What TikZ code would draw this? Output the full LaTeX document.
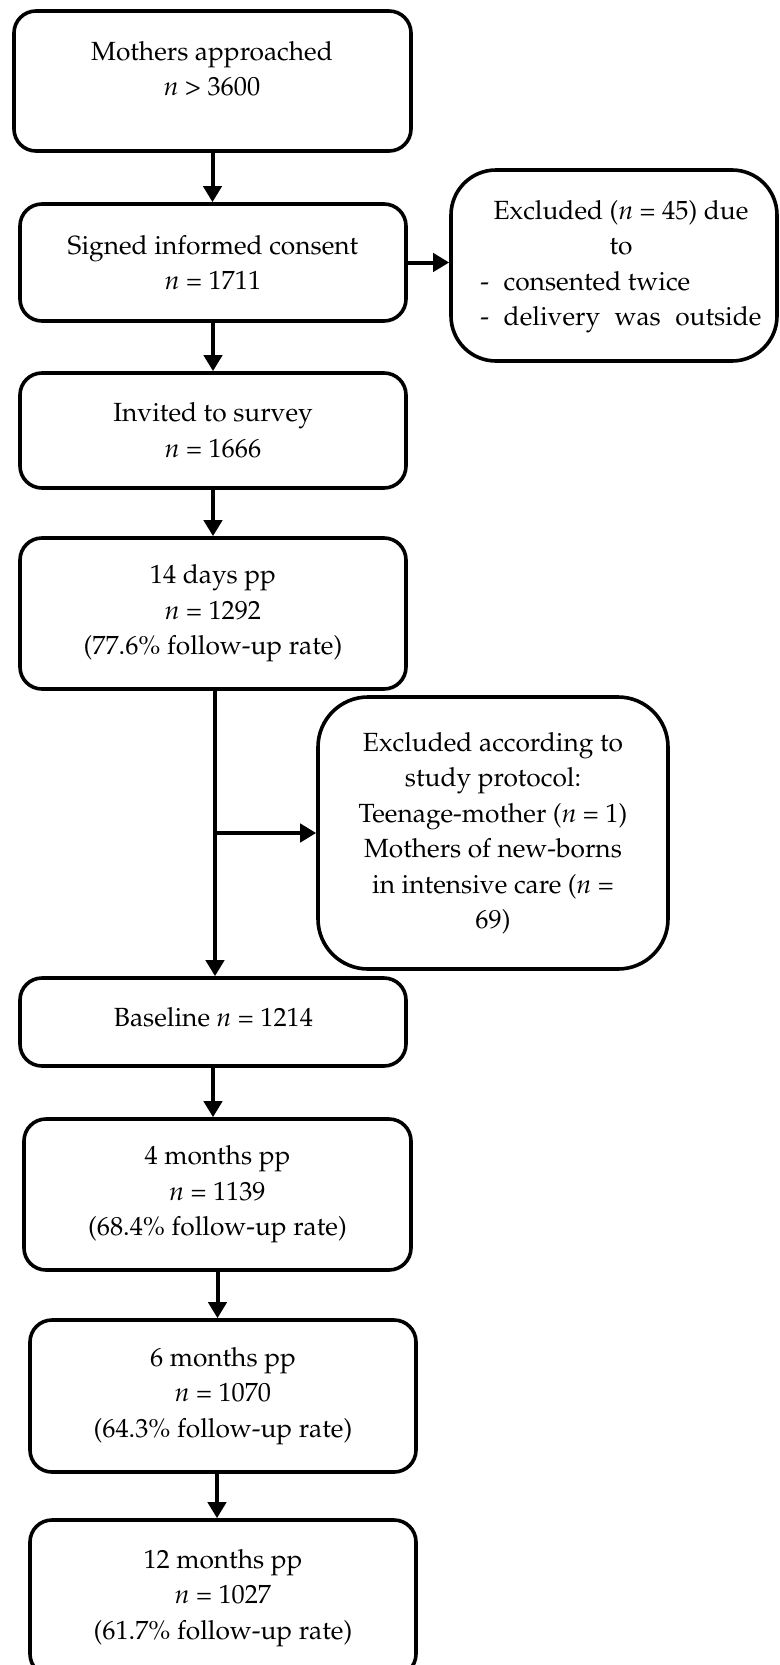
\documentclass[tikz,border=0pt]{standalone}
\usepackage[T1]{fontenc}
\usepackage{mathpazo}
\usetikzlibrary{arrows.meta}
\begin{document}
\begin{tikzpicture}[x=1pt,y=-1pt,
  box/.style={draw, line width=3.6pt, rounded corners=22pt, align=center,
    font=\fontsize{26.3}{35.5}\selectfont, inner sep=0pt},
  bigbox/.style={box, rounded corners=48pt},
  txt/.style={align=center, font=\fontsize{26.3}{35.5}\selectfont, inner sep=0pt},
  arr/.style={line width=4pt, -{Triangle[length=16pt,width=18pt]}}
]
\useasboundingbox (0,0) rectangle (779,1665);

\node[box, minimum width=397pt, minimum height=140pt] (b1) at (212.5,81) {};
\node[txt] (t1) at (212,69) {Mothers approached\\\textit{n} > 3600};

\node[box, minimum width=386pt, minimum height=117pt] (b2) at (213,262.5) {Signed informed consent\\\textit{n} = 1711};
\node[box, minimum width=386pt, minimum height=115pt] (b3) at (213,430.5) {Invited to survey\\\textit{n} = 1666};
\node[box, minimum width=386pt, minimum height=151pt] (b4) at (213,613.5) {14 days pp\\\textit{n} = 1292\\(77.6\% follow-up rate)};

\node[box, minimum width=386pt, minimum height=88pt] (b5) at (213,1022) {};
\node[txt] (t5) at (213.5,1017) {Baseline \textit{n} = 1214};

\node[box, minimum width=387pt, minimum height=151pt] (b6) at (217.5,1194.5) {4 months pp\\\textit{n} = 1139\\(68.4\% follow-up rate)};
\node[box, minimum width=386pt, minimum height=152pt] (b7) at (223,1396) {6 months pp\\\textit{n} = 1070\\(64.3\% follow-up rate)};
\node[box, minimum width=386pt, minimum height=156pt] (b8) at (223,1598) {12 months pp\\\textit{n} = 1027\\(61.7\% follow-up rate)};

\node[bigbox, rounded corners=45pt, minimum width=326pt, minimum height=191pt] (e1) at (614,265.5) {};
\node[txt] (te1) at (621,266.5) {Excluded (\textit{n} = 45) due\\to\\\rlap{-\hspace{0.55em}consented twice}\phantom{-\hspace{0.55em}delivery\hspace{0.55em}was\hspace{0.55em}outside}\\-\hspace{0.55em}delivery\hspace{0.55em}was\hspace{0.55em}outside};

\node[bigbox, rounded corners=50pt, minimum width=350pt, minimum height=272pt] (e2) at (493,833) {Excluded according to\\study protocol:\\Teenage-mother (\textit{n} = 1)\\Mothers of new-borns\\in intensive care (\textit{n} =\\69)};

\draw[arr] (b1.south) -- (b1.south |- b2.north);
\draw[arr] (b2.east) -- (b2.east -| e1.west);
\draw[arr] (b2.south) -- (b2.south |- b3.north);
\draw[arr] (b3.south) -- (b3.south |- b4.north);
\draw[arr] ([xshift=2pt]b4.south) -- ([xshift=2pt]b4.south |- b5.north);
\draw[arr] ([xshift=2pt]b4.south |- e2.west) -- (e2.west);
\draw[arr] (b5.south) -- (b5.south |- b6.north);
\draw[arr] (b6.south) -- (b6.south |- b7.north);
\draw[arr] ([xshift=-6pt]b7.south) -- ([xshift=-6pt]b7.south |- b8.north);
\end{tikzpicture}
\end{document}
